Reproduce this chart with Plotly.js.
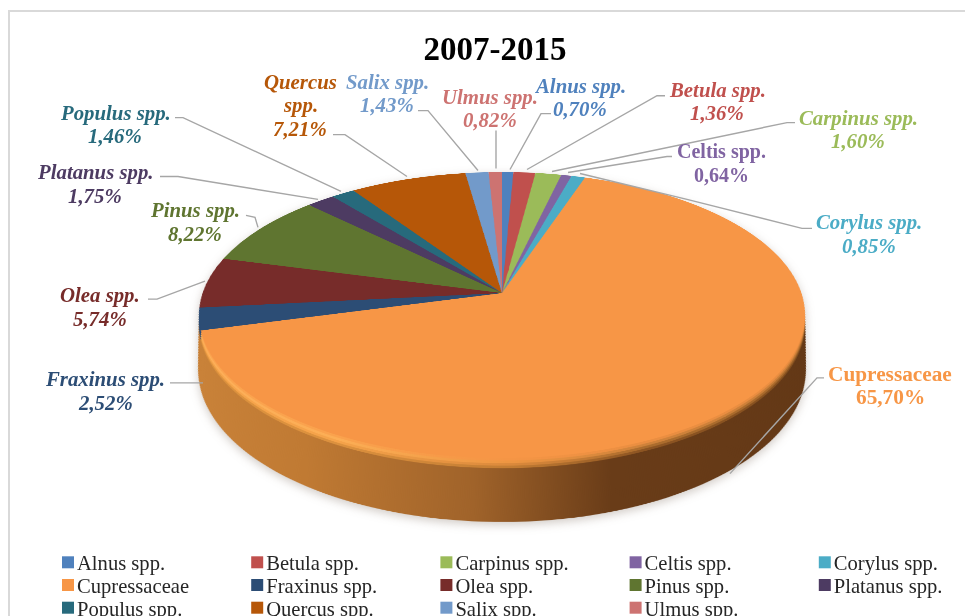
<!DOCTYPE html>
<html><head><meta charset="utf-8">
<script src="https://cdn.plot.ly/plotly-3.0.1.min.js"></script>
<style>
html,body{margin:0;padding:0;background:#fff;width:965px;height:616px;overflow:hidden}
#stage{position:relative;width:965px;height:616px;overflow:hidden;filter:blur(0.45px)}
#pieWrap{position:absolute;left:0;top:0;width:965px;height:616px;filter:drop-shadow(0 3px 5px rgba(90,70,50,.28))}
#pie3d{position:absolute;left:0;top:0;width:1000px;height:1000px;transform-origin:0 0}
#main{position:absolute;left:0;top:0;width:965px;height:680px}
#main .pielayer{display:none}
</style></head><body>
<div id="stage"><div id="pieWrap"><div id="pie3d"></div></div><div id="main"></div></div>
<script>
// ---- data ----
const categories = ['Alnus spp.','Betula spp.','Carpinus spp.','Celtis spp.','Corylus spp.','Cupressaceae','Fraxinus spp.','Olea spp.','Pinus spp.','Platanus spp.','Populus spp.','Quercus spp.','Salix spp.','Ulmus spp.'];
const shares = [0.70,1.36,1.60,0.64,0.85,65.70,2.52,5.74,8.22,1.75,1.46,7.21,1.43,0.82];
const colours = ['#4f81bd','#c0504d','#9bbb59','#8064a2','#4bacc6','#f79646','#2c4d75','#772c2a','#5f7530','#4d3b62','#276a7c','#b65708','#729aca','#cd7371'];
const chartTitle = '2007-2015';

// ---- label layout: centre x, first-line y (px) ----
const labelPos = [[580,86],[717,90],[858,118],[721,152],[869,223],[890,375],[105,380],[100,296],[195,211],[95,173],[115,113],[300,82],[387,82],[490,97]];
const labelLines = categories.map((c,i)=> c==='Quercus spp.' ? ['Quercus','spp.'] : [c]);
const uprightLabels = ['Celtis spp.','Cupressaceae'];
const labelSizes = {'Celtis spp.':20,'Cupressaceae':21.3};
const leaders = [
 [[551,114],[541,114],[510,170]],
 [[665,96],[657,96],[527,170]],
 [[795,123],[787,123],[552,172]],
 [[672,157],[667,157],[568,173]],
 [[812,229],[802,229],[687,200],[580,174]],
 [[824,379],[817,379],[730,475]],
 [[170,384],[203,384]],
 [[148,300],[157,300],[205,282]],
 [[246,216],[255,218],[258,228]],
 [[160,177],[178,177],[318,200]],
 [[175,118],[183,118],[341,192]],
 [[333,135],[345,135],[407,177]],
 [[418,111],[428,111],[478,171]],
 [[496,131],[496,169]]
];

const W=965,H=680;
const px=x=>x/W, py=y=>1-y/H;
const fmt=v=>v.toFixed(2).replace('.',',')+'%';

// ---- main layer: title, frame, labels, leaders, legend ----
const annotations=[];
categories.forEach((c,i)=>{
  const lines=[...labelLines[i],fmt(shares[i])];
  lines.forEach((t,k)=>{
    const up=uprightLabels.includes(c);
    annotations.push({xref:'paper',yref:'paper',x:px(labelPos[i][0]),y:py(labelPos[i][1]+k*23.3),
      xanchor:'center',yanchor:'middle',showarrow:false,text:up?'<b>'+t+'</b>':'<b><i>'+t+'</i></b>',
      font:{family:'Liberation Serif',size:labelSizes[c]||20.8,color:colours[i]}});
  });
});
const shapes=[{type:'rect',xref:'paper',yref:'paper',x0:px(9),x1:px(990),y0:py(11),y1:py(720),line:{color:'#d9d9d9',width:2}}];
leaders.forEach(p=>shapes.push({type:'path',xref:'paper',yref:'paper',layer:'above',
  path:p.map((q,i)=>(i?'L':'M')+px(q[0])+','+py(q[1])).join(' '),line:{color:'#a6a6a6',width:1.4}}));

const mainLayout={width:W,height:H,margin:{l:0,r:0,t:0,b:0,pad:0},paper_bgcolor:'rgba(0,0,0,0)',plot_bgcolor:'rgba(0,0,0,0)',
  title:{text:'<b>'+chartTitle+'</b>',x:px(495),y:py(48),xanchor:'center',yanchor:'middle',font:{family:'Liberation Serif',size:33,color:'#000'}},
  annotations,shapes,showlegend:true,
  legend:{orientation:'h',x:0,y:py(552),yanchor:'top',xanchor:'left',entrywidth:150,entrywidthmode:'pixels',traceorder:'normal',
    font:{family:'Liberation Serif',size:20.6,color:'#262626'},bgcolor:'rgba(0,0,0,0)'}};
const mainData=[{type:'pie',labels:categories,values:shares,sort:false,direction:'clockwise',rotation:0,
  marker:{colors:colours},textinfo:'none',hoverinfo:'skip',domain:{x:[0.5,0.51],y:[0.5,0.51]}}];

// ---- extruded pie: stacked pie traces, seen through a perspective projection ----
const R=400,Cx=500,Cy=450;
const g=-0.154,e=139.6,a=299.4,ax=502,ay=293;
function layer(vShift,scale,cols,name){
  const r=R*scale,cy=Cy+vShift*R;
  return {type:'pie',name,labels:categories,values:shares,sort:false,direction:'clockwise',rotation:0,
    marker:{colors:cols,line:{width:0}},textinfo:'none',hoverinfo:'skip',showlegend:false,
    domain:{x:[(Cx-r)/1000,(Cx+r)/1000],y:[1-(cy+r)/1000,1-(cy-r)/1000]}};
}
const wallCols=colours.map(()=>'#c98239');
const pieData=[];
const wallN=22, wallDepth=0.363, wallShrink=0.0535, bevelDepth=0.0607;
for(let i=wallN;i>=1;i--){
  const t=i/wallN, d=bevelDepth+(wallDepth-bevelDepth)*t;
  pieData.push(layer(d,1-wallShrink*d/wallDepth,wallCols,'wall'));
}
const bevelStops=[
 [[0,'#dc923d'],[0.25,'#dc913e'],[0.5,'#c47d33'],[0.7,'#8c5422'],[1,'#85501f']],
 [[0,'#f6a44b'],[0.25,'#f5a34a'],[0.5,'#dc8a3c'],[0.7,'#ab6c2d'],[1,'#a8692b']],
 [[0,'#fdb05a'],[0.25,'#fcae55'],[0.5,'#ee9642'],[0.7,'#cf823a'],[1,'#cc7f38']],
 [[0,'#fba44f'],[0.25,'#faa24d'],[0.5,'#f59545'],[0.7,'#ea8e41'],[1,'#e98d41']]
];
bevelStops.forEach((s,k)=>{
  const d=bevelDepth*(1-k/bevelStops.length);
  pieData.push(layer(d,1-wallShrink*d/wallDepth,colours,'bevel'));
});
pieData.push(layer(0,1,colours,'top'));

const wallStops=[[0,'#c98239'],[0.2,'#c07a33'],[0.45,'#a0632a'],[0.65,'#693c18'],[1,'#633816']];
function addGradient(defs,id,stops){
  const NS='http://www.w3.org/2000/svg';
  const lg=document.createElementNS(NS,'linearGradient');
  lg.setAttribute('id',id);lg.setAttribute('x1','0');lg.setAttribute('x2','1');lg.setAttribute('y1','0');lg.setAttribute('y2','0');
  stops.forEach(s=>{const st=document.createElementNS(NS,'stop');st.setAttribute('offset',s[0]);st.setAttribute('stop-color',s[1]);lg.appendChild(st);});
  defs.appendChild(lg);
}
// perspective projection of the pie plane
const c1=g/R;
const m22=(ay*g+e)/R;
const mat=[a/R,0,0,0, ax*c1,m22,0,c1, 0,0,1,0,
  ax-ax*c1*Cy-a*Cx/R, ay-m22*Cy, 0, 1-c1*Cy];

const pieEl=document.getElementById('pie3d');
pieEl.style.transform='matrix3d('+mat.join(',')+')';
const cupIndex=categories.indexOf('Cupressaceae');
Plotly.newPlot(pieEl,pieData,{width:1000,height:1000,margin:{l:0,r:0,t:0,b:0,pad:0},paper_bgcolor:'rgba(0,0,0,0)',showlegend:false},{displayModeBar:false,staticPlot:true}).then(()=>{
  const defs=pieEl.querySelector('.main-svg defs');
  addGradient(defs,'wallGrad',wallStops);
  bevelStops.forEach((s,i)=>addGradient(defs,'bevelGrad'+i,s));
  const traces=pieEl.querySelectorAll('.pielayer .trace');
  traces.forEach((tr,i)=>{
    const slice=tr.querySelectorAll('.slice path.surface')[cupIndex];
    if(!slice)return;
    if(i<wallN) slice.style.fill='url(#wallGrad)';
    else if(i<wallN+bevelStops.length) slice.style.fill='url(#bevelGrad'+(i-wallN)+')';
  });
});
Plotly.newPlot('main',mainData,mainLayout,{displayModeBar:false,staticPlot:true}).then(()=>{
  const root=document.getElementById('main');
  const leg=root.querySelector('.legend');
  leg.setAttribute('transform','translate(0,0)');
  const sb=leg.querySelector('.scrollbox');
  if(sb){sb.removeAttribute('clip-path');sb.style.clipPath='none';sb.setAttribute('transform','translate(0,0)');}
  leg.querySelectorAll('.traces').forEach((tr,i)=>{
    const col=i%5,row=Math.floor(i/5);
    tr.setAttribute('transform','translate('+(68+col*189.2)+','+(562.3+row*22.7)+')');
    const sw=tr.querySelector('.legendpie');
    if(sw)sw.setAttribute('transform','translate(0,0)');
    const tx=tr.querySelector('.legendtext');
    if(tx)tx.setAttribute('x',9);
  });
});
</script></body></html>
